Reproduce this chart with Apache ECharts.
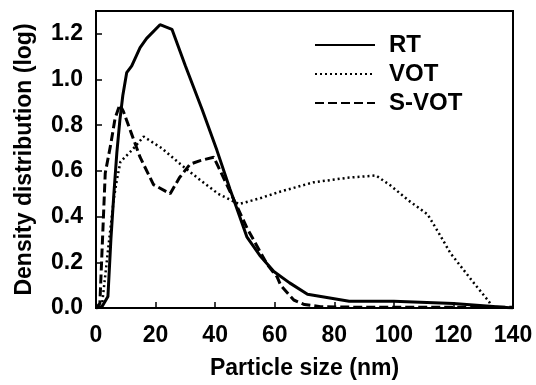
<!DOCTYPE html>
<html>
<head>
<meta charset="utf-8">
<script src="https://cdn.jsdelivr.net/npm/echarts@6/dist/echarts.min.js"></script>
<style>html,body{margin:0;padding:0;background:#fff}#c{width:536px;height:385px}</style>
</head>
<body>
<div id="c"></div>
<script>
var xTicks = [0, 20, 40, 60, 80, 100, 120, 140];
var yTicks = [0.0, 0.2, 0.4, 0.6, 0.8, 1.0, 1.2];
var seriesNames = ['RT', 'VOT', 'S-VOT'];

var rtX = [0, 2, 4, 5, 6, 7, 8, 9, 10.3, 12, 14.8, 17, 21.5, 25.5, 30, 35.6, 40.6, 45, 50.7, 55, 59.7, 65, 71, 85, 100, 120, 140];
var rtY = [0, 0.005, 0.05, 0.3, 0.5, 0.68, 0.82, 0.93, 1.03, 1.06, 1.14, 1.18, 1.24, 1.22, 1.06, 0.87, 0.69, 0.52, 0.31, 0.23, 0.16, 0.11, 0.06, 0.03, 0.03, 0.02, 0.0];

var votX = [0, 2, 4, 6, 7, 8.2, 12, 16, 22, 28.3, 35, 41, 48, 55, 62, 73, 84.4, 94, 99, 105, 111.3, 115, 119, 127, 132, 133];
var votY = [0, 0.01, 0.25, 0.48, 0.56, 0.64, 0.69, 0.75, 0.7, 0.63, 0.56, 0.5, 0.455, 0.48, 0.51, 0.55, 0.57, 0.58, 0.535, 0.47, 0.41, 0.33, 0.24, 0.107, 0.027, 0.0];

var svotX = [0, 1.3, 3.1, 5, 6.4, 8, 9.2, 12, 14.8, 19.3, 24.9, 28, 31.6, 35, 39.5, 41, 45, 50.7, 57.5, 60.8, 62, 66.4, 70, 75.4, 90, 110, 140];
var svotY = [0, 0.02, 0.59, 0.72, 0.83, 0.89, 0.86, 0.76, 0.66, 0.54, 0.5, 0.57, 0.63, 0.645, 0.66, 0.62, 0.51, 0.35, 0.19, 0.136, 0.1, 0.035, 0.015, 0.006, 0.003, 0.003, 0.003];

function pairs(xs, ys) { return xs.map(function (x, i) { return [x, ys[i]]; }); }

var FONT = 'Liberation Sans, Arial, sans-serif';
var chart = echarts.init(document.getElementById('c'), null, { renderer: 'canvas' });
chart.setOption({
  animation: false,
  backgroundColor: '#fff',
  grid: { left: 96, right: 23, top: 11, bottom: 77, show: true, borderColor: '#000', borderWidth: 2, backgroundColor: 'transparent' },
  legend: {
    orient: 'vertical', left: 309, top: 28, itemWidth: 60, itemHeight: 14, itemGap: 5,
    itemStyle: { opacity: 0 },
    textStyle: { fontFamily: FONT, fontWeight: 'bold', fontSize: 24, color: '#000', padding: [0, 0, 0, 9] },
    data: seriesNames
  },
  xAxis: {
    type: 'value', min: xTicks[0], max: xTicks[xTicks.length - 1], interval: 20,
    name: 'Particle size (nm)', nameLocation: 'middle', nameGap: 49,
    nameTextStyle: { fontFamily: FONT, fontWeight: 'bold', fontSize: 23, color: '#000' },
    axisLine: { show: true, lineStyle: { color: '#000', width: 2 } },
    axisTick: { show: true, inside: true, length: 6, lineStyle: { color: '#000', width: 1.5 } },
    axisLabel: { fontFamily: FONT, fontWeight: 'bold', fontSize: 23, color: '#000', margin: 16 },
    splitLine: { show: false }
  },
  yAxis: {
    type: 'value', min: 0, max: 1.3, interval: 0.2,
    name: 'Density distribution (log)', nameLocation: 'middle', nameGap: 60,
    nameTextStyle: { fontFamily: FONT, fontWeight: 'bold', fontSize: 23, color: '#000' },
    axisLine: { show: true, lineStyle: { color: '#000', width: 2 } },
    axisTick: { show: true, inside: true, length: 6, lineStyle: { color: '#000', width: 1.5 } },
    axisLabel: {
      fontFamily: FONT, fontWeight: 'bold', fontSize: 23, color: '#000', margin: 13,
      showMaxLabel: false,
      formatter: function (v) { return yTicks.some(function (t) { return Math.abs(t - v) < 1e-6; }) ? v.toFixed(1) : ''; }
    },
    splitLine: { show: false }
  },
  series: [
    { name: seriesNames[0], type: 'line', symbol: 'none', data: pairs(rtX, rtY),
      lineStyle: { color: '#000', width: 3, type: 'solid' }, itemStyle: { color: '#000' } },
    { name: seriesNames[1], type: 'line', symbol: 'none', data: pairs(votX, votY),
      lineStyle: { color: '#000', width: 2.5, type: [2, 3], cap: 'butt' }, itemStyle: { color: '#000' } },
    { name: seriesNames[2], type: 'line', symbol: 'none', data: pairs(svotX, svotY),
      lineStyle: { color: '#000', width: 3, type: [9, 4] }, itemStyle: { color: '#000' } }
  ]
});
</script>
</body>
</html>
